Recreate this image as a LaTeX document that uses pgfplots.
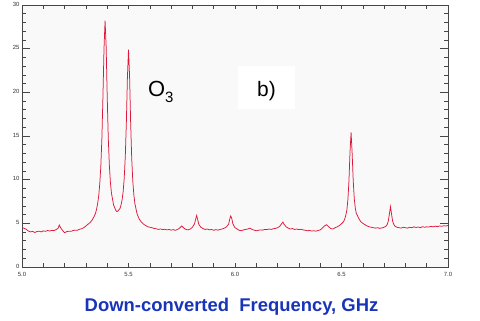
\documentclass[border=0pt]{standalone}
\usepackage{pgfplots}
\pgfplotsset{compat=1.18}
\usepackage{fontspec}
\setmainfont{Liberation Sans}
\definecolor{specred}{RGB}{222,24,58}
\definecolor{lblblue}{RGB}{24,52,184}
\definecolor{plotbg}{RGB}{249,249,249}
\definecolor{axgray}{RGB}{70,70,70}
\begin{document}
\begin{tikzpicture}
\useasboundingbox (0,0) rectangle (480bp,321bp);
\begin{axis}[
  at={(22bp,54bp)}, anchor=south west,
  scale only axis, width=426bp, height=262bp,
  xmin=5, xmax=7, ymin=0, ymax=30,
  axis background/.style={fill=plotbg},
  axis line style={axgray, line width=0.6bp},
  xtick={5,5.5,6,6.5,7},
  xticklabels={5.0,5.5,6.0,6.5,7.0},
  minor xtick={5.1,5.2,5.3,5.4,5.5,5.6,5.7,5.8,5.9,6.0,6.1,6.2,6.3,6.4,6.5,6.6,6.7,6.8,6.9},
  major x tick style={draw=none},
  ytick={0,5,10,15,20,25,30},
  yticklabels={0,5,10,15,20,25,30},
  minor y tick num=4,
  major tick length=8bp, minor tick length=4bp,
  tick style={axgray, line width=0.6bp},
  tick align=inside,
  ticklabel style={font=\fontsize{6}{6}\selectfont, text=black!80},
  xticklabel style={yshift=-2bp},
  yticklabel style={xshift=1bp, yshift=1bp},
  clip=true,
]
\addplot[specred, line width=0.75bp] coordinates {
(5.00,4.55)(5.01,4.42)(5.02,4.32)(5.03,4.12)(5.04,4.02)(5.05,4.08)(5.06,3.95)(5.07,4.06)(5.08,4.10)(5.09,4.02)
(5.10,4.14)(5.11,4.08)(5.12,4.18)(5.13,4.12)(5.14,4.20)(5.15,4.16)(5.16,4.28)(5.17,4.45)(5.175,4.80)(5.18,4.55)
(5.19,4.20)(5.20,3.92)(5.21,4.05)(5.22,4.10)(5.23,4.08)(5.24,4.18)(5.25,4.22)(5.26,4.20)(5.27,4.32)(5.28,4.38)
(5.29,4.50)(5.30,4.70)(5.31,4.90)(5.32,5.10)(5.33,5.40)(5.34,5.85)(5.345,6.15)(5.35,6.60)(5.355,7.25)(5.36,8.10)
(5.365,9.50)(5.37,11.5)(5.375,14.7)(5.38,19.5)(5.385,25.0)(5.39,28.2)(5.395,25.3)(5.40,19.6)(5.405,14.8)(5.41,11.7)
(5.415,9.7)(5.42,8.45)(5.43,7.10)(5.44,6.50)(5.445,6.35)(5.45,6.40)(5.46,6.70)(5.465,7.10)(5.47,7.70)(5.475,8.65)
(5.48,10.2)(5.485,12.7)(5.49,16.6)(5.495,21.8)(5.50,24.9)(5.505,21.9)(5.51,16.6)(5.515,12.5)(5.52,9.9)(5.525,8.3)
(5.53,7.25)(5.54,6.10)(5.55,5.50)(5.56,5.15)(5.57,4.92)(5.58,4.75)(5.59,4.62)(5.60,4.55)(5.61,4.50)(5.62,4.42)
(5.63,4.38)(5.64,4.30)(5.65,4.36)(5.66,4.28)(5.67,4.32)(5.68,4.25)(5.69,4.30)(5.70,4.22)(5.71,4.28)(5.72,4.20)
(5.73,4.30)(5.74,4.45)(5.75,4.70)(5.76,4.45)(5.77,4.30)(5.78,4.25)(5.79,4.35)(5.80,4.55)(5.805,4.75)(5.81,4.95)
(5.815,5.45)(5.82,5.90)(5.825,5.40)(5.83,4.90)(5.835,4.70)(5.84,4.55)(5.85,4.40)(5.86,4.30)(5.87,4.35)(5.88,4.25)
(5.89,4.30)(5.90,4.20)(5.91,4.28)(5.92,4.22)(5.93,4.30)(5.94,4.35)(5.95,4.45)(5.96,4.60)(5.97,4.90)(5.975,5.45)
(5.98,5.85)(5.985,5.55)(5.99,4.95)(5.995,4.70)(6.00,4.50)(6.01,4.35)(6.02,4.20)(6.03,4.15)(6.04,4.25)(6.05,4.30)
(6.06,4.35)(6.07,4.45)(6.08,4.30)(6.09,4.22)(6.10,4.15)(6.11,4.20)(6.12,4.25)(6.13,4.22)(6.14,4.30)(6.15,4.28)
(6.16,4.35)(6.17,4.30)(6.18,4.38)(6.19,4.42)(6.20,4.50)(6.21,4.65)(6.22,5.00)(6.225,5.15)(6.23,4.90)(6.24,4.60)
(6.25,4.45)(6.26,4.35)(6.27,4.40)(6.28,4.30)(6.29,4.35)(6.30,4.28)(6.31,4.32)(6.32,4.25)(6.33,4.20)(6.34,4.15)
(6.35,4.18)(6.36,4.12)(6.37,4.15)(6.38,4.10)(6.39,4.18)(6.40,4.25)(6.41,4.45)(6.42,4.70)(6.43,4.85)(6.44,4.60)
(6.45,4.40)(6.46,4.35)(6.47,4.50)(6.48,4.60)(6.49,4.75)(6.50,4.95)(6.51,5.20)(6.515,5.50)(6.52,5.90)(6.525,6.50)
(6.53,7.70)(6.535,9.85)(6.54,13.2)(6.545,15.4)(6.55,13.0)(6.555,9.9)(6.56,7.8)(6.565,6.7)(6.57,6.1)(6.575,5.9)
(6.58,5.6)(6.59,5.2)(6.60,5.0)(6.61,4.85)(6.62,4.70)(6.63,4.60)(6.64,4.55)(6.65,4.50)(6.66,4.45)(6.67,4.50)
(6.68,4.42)(6.69,4.48)(6.70,4.55)(6.71,4.70)(6.715,4.90)(6.72,5.30)(6.725,6.10)(6.73,6.90)(6.735,6.05)(6.74,5.25)
(6.745,4.90)(6.75,4.70)(6.76,4.55)(6.77,4.50)(6.78,4.45)(6.79,4.55)(6.80,4.50)(6.81,4.45)(6.82,4.55)(6.83,4.50)
(6.84,4.60)(6.85,4.52)(6.86,4.58)(6.87,4.50)(6.88,4.62)(6.89,4.55)(6.90,4.60)(6.91,4.58)(6.92,4.65)(6.93,4.60)
(6.94,4.68)(6.95,4.62)(6.96,4.70)(6.97,4.66)(6.98,4.72)(6.99,4.70)(7.00,4.75)
};
\node[fill=white, minimum width=57bp, minimum height=43bp, inner sep=0pt] at (axis cs:6.148,20.5) {};
\node[anchor=base, inner sep=0pt, font=\fontsize{21}{21}\selectfont] at (axis cs:6.148,19.5) {b)};
\node[anchor=base west, inner sep=0pt, font=\fontsize{22}{22}\selectfont] at (axis cs:5.591,19.5) {O\raisebox{-6bp}{\fontsize{15}{15}\selectfont 3}};
\end{axis}
\node[anchor=base, inner sep=0pt, text=lblblue, font=\fontsize{18.5}{18.5}\selectfont\bfseries] at (231.5bp,10bp) {Down-converted\ \ Frequency, GHz};
\end{tikzpicture}
\end{document}
